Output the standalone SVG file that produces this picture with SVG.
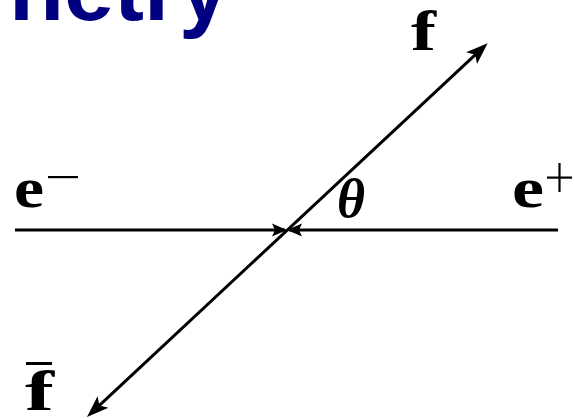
<svg xmlns="http://www.w3.org/2000/svg" width="575" height="418" viewBox="0 0 575 418">
  <style>
    .title { font-family: "Liberation Sans", Arial, sans-serif; font-weight: bold; fill: #000080; }
    .lbl { font-family: "Liberation Serif", "Times New Roman", serif; font-weight: bold; fill: #000; }
    .ln { stroke: #000; stroke-width: 3; fill: none; }
  </style>
  <defs>
    <marker id="arrBig" markerUnits="userSpaceOnUse" markerWidth="26" markerHeight="20" viewBox="0 -10 26 20" refX="17" refY="0" orient="auto-start-reverse">
      <path d="M22,0 L0,-8 L5,0 L0,8 Z" fill="#000"/>
    </marker>
    <marker id="arrSmall" markerUnits="userSpaceOnUse" markerWidth="18" markerHeight="14" viewBox="0 -7 18 14" refX="13" refY="0" orient="auto">
      <path d="M15,0 L0,-6.5 L3,0 L0,6.5 Z" fill="#000"/>
    </marker>
  </defs>
  <rect width="575" height="418" fill="#fff"/>
  <text class="title" x="9" y="20" font-size="90">netry</text>
  <g id="connectors">
    <line class="ln" x1="15" y1="230" x2="285" y2="230" marker-end="url(#arrSmall)"/>
    <line class="ln" x1="558" y1="230" x2="289" y2="230" marker-end="url(#arrSmall)"/>
    <line class="ln" x1="90.6" y1="413.6" x2="484.0" y2="46.6" marker-start="url(#arrBig)" marker-end="url(#arrBig)"/>
  </g>
  <g id="node-f">
    <text class="lbl" x="411" y="50" font-size="56" textLength="25" lengthAdjust="spacingAndGlyphs">f</text>
  </g>
  <g id="node-em">
    <text class="lbl" x="14" y="207" font-size="56" textLength="30" lengthAdjust="spacingAndGlyphs">e</text>
    <rect x="48" y="176" width="30" height="2.2" fill="#000"/>
  </g>
  <g id="node-ep">
    <text class="lbl" x="512" y="207" font-size="56" textLength="32" lengthAdjust="spacingAndGlyphs">e</text>
    <rect x="547" y="176.5" width="25" height="2.2" fill="#000"/>
    <rect x="558.4" y="163" width="2.2" height="29" fill="#000"/>
  </g>
  <g id="node-theta">
    <text class="lbl" x="337" y="217" font-size="54" font-style="italic">θ</text>
  </g>
  <g id="node-fbar">
    <text class="lbl" x="25" y="410" font-size="56" textLength="29" lengthAdjust="spacingAndGlyphs">f</text>
    <rect x="26" y="362" width="26" height="3" fill="#000"/>
  </g>
</svg>
